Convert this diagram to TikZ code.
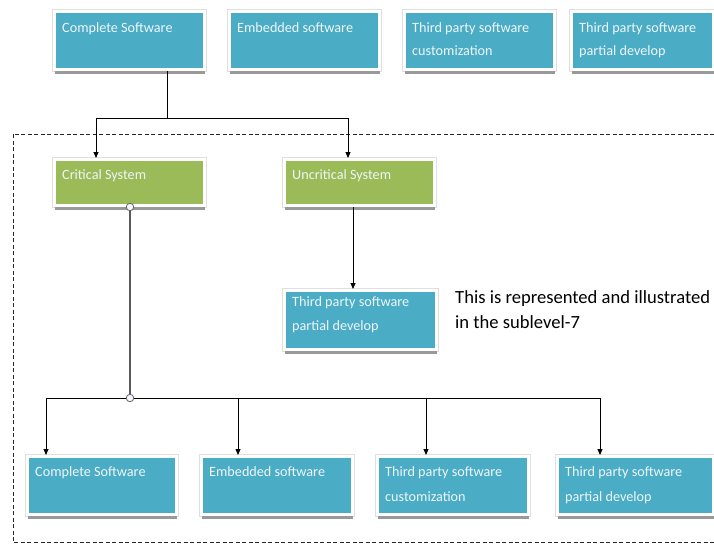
\documentclass[tikz,border=0pt]{standalone}
\usepackage{fontspec}
\setmainfont{Carlito}
\usetikzlibrary{arrows.meta,shadows}
\definecolor{tileblue}{HTML}{4BACC6}
\definecolor{tilegreen}{HTML}{9BBB59}
\definecolor{tiletextcol}{HTML}{EEF6F8}
\tikzset{
  tile/.style={fill=#1, draw=white, line width=3pt,
    preaction={draw=gray!25, line width=4.6pt},
    general shadow={fill=black!40, shadow yshift=-4.5pt},
    minimum width=150pt, minimum height=58pt, anchor=north west,
    inner sep=0pt},
  tilelabel/.style={anchor=north west, inner sep=0pt, align=left,
    text=tiletextcol, font=\fontsize{14.2}{23}\selectfont},
  link/.style={draw=black, line width=0.9pt},
  arrowlink/.style={link, -{Triangle[length=6pt,width=5pt]}},
  joint/.style={circle, draw=gray!80!black, fill=blue!4, line width=0.8pt,
    minimum size=7.5pt, inner sep=0pt},
  frame/.style={draw=black!85, line width=0.9pt, dash pattern=on 4pt off 2.5pt},
}
\begin{document}
\begin{tikzpicture}[x=1pt,y=-1pt]
\useasboundingbox (0,0) rectangle (714,544);

% outer dashed frame (its right side runs just past the page edge)
\draw[frame] (13,134) rectangle (716,542);

% top row of tiles
\node[tile=tileblue] (t1) at (53,10) {};
\node[tile=tileblue] (t2) at (228,10) {};
\node[tile=tileblue] (t3) at (403,10) {};
\node[tile=tileblue, minimum width=142pt] (t4) at (570,10) {};
\node[tilelabel] (t1l) at ([xshift=9pt,yshift=-12.5pt]t1.north west) {Complete Software};
\node[tilelabel] (t2l) at ([xshift=9pt,yshift=-12.5pt]t2.north west) {Embedded software};
\node[tilelabel] (t3l) at ([xshift=9pt,yshift=-12.5pt]t3.north west) {Third party software\\customization};
\node[tilelabel] (t4l) at ([xshift=9pt,yshift=-12.5pt]t4.north west) {Third party software\\partial develop};

% system level
\node[tile=tilegreen, minimum height=46pt] (crit) at (53,158) {};
\node[tile=tilegreen, minimum height=46pt] (uncrit) at (283,158) {};
\node[tilelabel] (critl) at ([xshift=9pt,yshift=-11pt]crit.north west) {Critical System};
\node[tilelabel] (uncritl) at ([xshift=9pt,yshift=-11pt]uncrit.north west) {Uncritical System};

% partial develop tile and note
\node[tile=tileblue, minimum width=152pt, minimum height=59pt] (part) at (283,289) {};
\node[tilelabel, font=\fontsize{14.2}{24}\selectfont] (partl) at ([xshift=9pt,yshift=-7.5pt]part.north west) {Third party software\\partial develop};
\node[anchor=north west, inner sep=0pt, align=left,
      font=\fontsize{18.6}{25}\selectfont] (note) at (455,290)
      {This is represented and illustrated\\in the sublevel-7};

% bottom row of tiles
\node[tile=tileblue, minimum width=149pt] (b1) at (26,455) {};
\node[tile=tileblue, minimum width=151pt] (b2) at (200,455) {};
\node[tile=tileblue, minimum width=151pt] (b3) at (376,455) {};
\node[tile=tileblue, minimum width=156pt] (b4) at (556,455) {};
\node[tilelabel, font=\fontsize{14.2}{25}\selectfont] (b1l) at ([xshift=9pt,yshift=-11pt]b1.north west) {Complete Software};
\node[tilelabel, font=\fontsize{14.2}{25}\selectfont] (b2l) at ([xshift=9pt,yshift=-11pt]b2.north west) {Embedded software};
\node[tilelabel, font=\fontsize{14.2}{25}\selectfont] (b3l) at ([xshift=9pt,yshift=-11pt]b3.north west) {Third party software\\customization};
\node[tilelabel, font=\fontsize{14.2}{25}\selectfont] (b4l) at ([xshift=9pt,yshift=-11pt]b4.north west) {Third party software\\partial develop};

% upper tree
\coordinate (split) at (167,118);
\coordinate (critin) at (96,0);
\coordinate (uncritin) at (348,0);
\draw[link] (split |- t1.south) -- (split);
\draw[arrowlink] (split) -| (critin |- crit.north);
\draw[arrowlink] (split) -| (uncritin |- uncrit.north);
\coordinate (uncritout) at (353,0);
\draw[arrowlink] (uncritout |- uncrit.south) -- (uncritout |- part.north);

% lower tree
\coordinate (bus) at (130,398);
\draw[link] (46,398) coordinate (busl) -- (600,398) coordinate (busr);
\draw[arrowlink] (busl) -- (busl |- b1.north);
\draw[arrowlink] (238,398) coordinate (bus2) -- (bus2 |- b2.north);
\draw[arrowlink] (426,398) coordinate (bus3) -- (bus3 |- b3.north);
\draw[arrowlink] (busr) -- (busr |- b4.north);
\node[joint] (jtop) at (130,207) {};
\node[joint] (jbot) at (bus) {};
\draw[draw=gray!70!black, line width=1.4pt] (jtop) -- (jbot);
\end{tikzpicture}
\end{document}
